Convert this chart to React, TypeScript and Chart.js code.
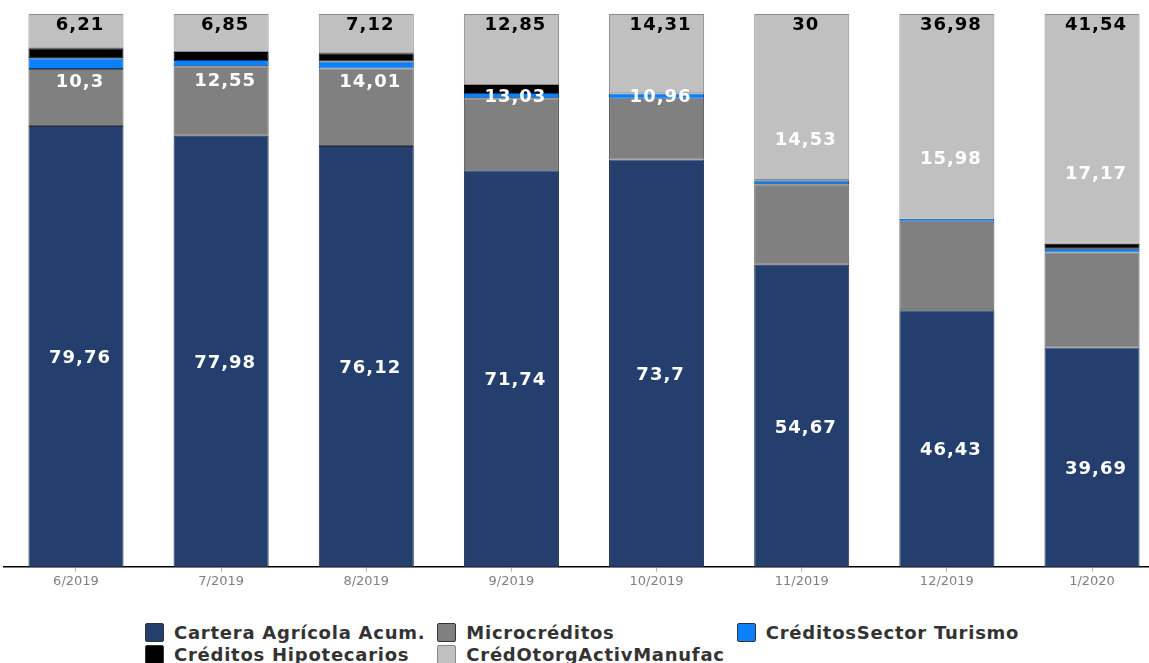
import React, { useEffect, useRef } from 'react';
import { Chart, registerables } from 'chart.js';

Chart.register(...registerables);

const categories = ['6/2019', '7/2019', '8/2019', '9/2019', '10/2019', '11/2019', '12/2019', '1/2020'];
const carteraAgricola = [79.76, 77.98, 76.12, 71.74, 73.7, 54.67, 46.43, 39.69];
const microcreditos = [10.3, 12.55, 14.01, 13.03, 10.96, 14.53, 15.98, 17.17];
const turismo = [1.95, 1.17, 1.3, 0.93, 0.95, 0.7, 0.55, 0.7];
const hipotecarios = [1.78, 1.45, 1.45, 1.45, 0.08, 0.1, 0.06, 0.9];
const manufactura = [6.21, 6.85, 7.12, 12.85, 14.31, 30, 36.98, 41.54];

const seriesNames = [
  'Cartera Agrícola Acum.',
  'Microcréditos',
  'CréditosSector Turismo',
  'Créditos Hipotecarios',
  'CrédOtorgActivManufac',
];
const fills = ['#243F6E', '#808080', '#0A80FA', '#000000', '#C0C0C0'];
const borders = ['#1B2B48', '#555555', '#0B3F7A', '#000000', '#8A8A8A'];

const FONT = '"DejaVu Sans", Verdana, sans-serif';

const fmt = (v: number) => String(v).replace('.', ',');

const labelPlugin = {
  id: 'segLabels',
  afterDatasetsDraw(chart: any) {
    const ctx = chart.ctx;
    const m0 = chart.getDatasetMeta(0);
    const m1 = chart.getDatasetMeta(1);
    const m4 = chart.getDatasetMeta(4);
    ctx.save();
    ctx.font = `bold 18px ${FONT}`;
    (ctx as any).letterSpacing = '1px';
    ctx.textAlign = 'center';
    ctx.textBaseline = 'middle';
    categories.forEach((_, i) => {
      const a = m0.data[i];
      const b = m1.data[i];
      const top = m4.data[i];
      const shift = 4;
      ctx.fillStyle = '#ffffff';
      // cartera: just below the centre of its segment
      ctx.fillText(fmt(carteraAgricola[i]), a.x + shift, (a.y + a.base) / 2 + 12);
      // micro: below the midpoint between its top and the top of the stack
      ctx.fillText(fmt(microcreditos[i]), b.x + shift, (b.y + top.y) / 2 + 41);
      // manufactura: inside the top of the bar
      ctx.fillStyle = '#000000';
      ctx.fillText(fmt(manufactura[i]), top.x + shift, top.y + 11);
    });
    ctx.restore();
  },
};

export default function App() {
  const ref = useRef<HTMLCanvasElement>(null);

  useEffect(() => {
    if (!ref.current) return;
    const series = [carteraAgricola, microcreditos, turismo, hipotecarios, manufactura];
    const chart = new Chart(ref.current, {
      type: 'bar',
      data: {
        labels: categories,
        datasets: series.map((d, k) => ({
          label: seriesNames[k],
          data: d,
          backgroundColor: fills[k],
          borderColor: borders[k],
          borderWidth: 1,
          borderSkipped: false,
          barPercentage: 0.655,
          categoryPercentage: 1,
        })),
      },
      options: {
        animation: false,
        responsive: true,
        maintainAspectRatio: false,
        layout: { padding: { top: 14, left: 3.4, right: 5.4, bottom: 0 } },
        plugins: { legend: { display: false }, tooltip: { enabled: false } },
        scales: {
          x: {
            stacked: true,
            afterFit: (s: any) => {
              s.height = 33;
            },
            grid: {
              display: true,
              drawOnChartArea: false,
              drawTicks: true,
              tickLength: 5,
              offset: false,
              color: '#bbbbbb',
            },
            border: { display: true, color: '#000000', width: 1.5 },
            ticks: {
              color: '#808080',
              font: { family: FONT, size: 13 },
              padding: 2,
            },
          },
          y: {
            stacked: true,
            display: false,
            min: 0,
            max: 100,
          },
        },
      },
      plugins: [labelPlugin],
    });
    return () => chart.destroy();
  }, []);

  return (
    <div style={{ position: 'fixed', inset: 0, overflow: 'hidden', background: '#fff' }}>
      <div style={{ position: 'absolute', left: 0, top: 0, width: 1170, height: 600 }}>
        <canvas ref={ref} />
      </div>
      <div
        style={{
          position: 'absolute',
          left: 145,
          top: 621,
          display: 'grid',
          gridTemplateColumns: 'repeat(3, auto)',
          columnGap: 12,
          rowGap: 0,
          fontFamily: FONT,
          fontWeight: 'bold',
          fontSize: 18,
          letterSpacing: '0.75px',
          color: '#333333',
        }}
      >
        {[0, 1, 2, 3, 4].map((k) => (
          <div key={k} style={{ display: 'flex', alignItems: 'center', height: 22, whiteSpace: 'nowrap' }}>
            <span
              style={{
                display: 'inline-block',
                width: 17,
                height: 17,
                background: fills[k],
                border: `1px solid ${k === 4 ? '#888' : '#333'}`,
                marginRight: 10,
                borderRadius: 2,
              }}
            />
            <span>{seriesNames[k]}</span>
          </div>
        ))}
      </div>
    </div>
  );
}
